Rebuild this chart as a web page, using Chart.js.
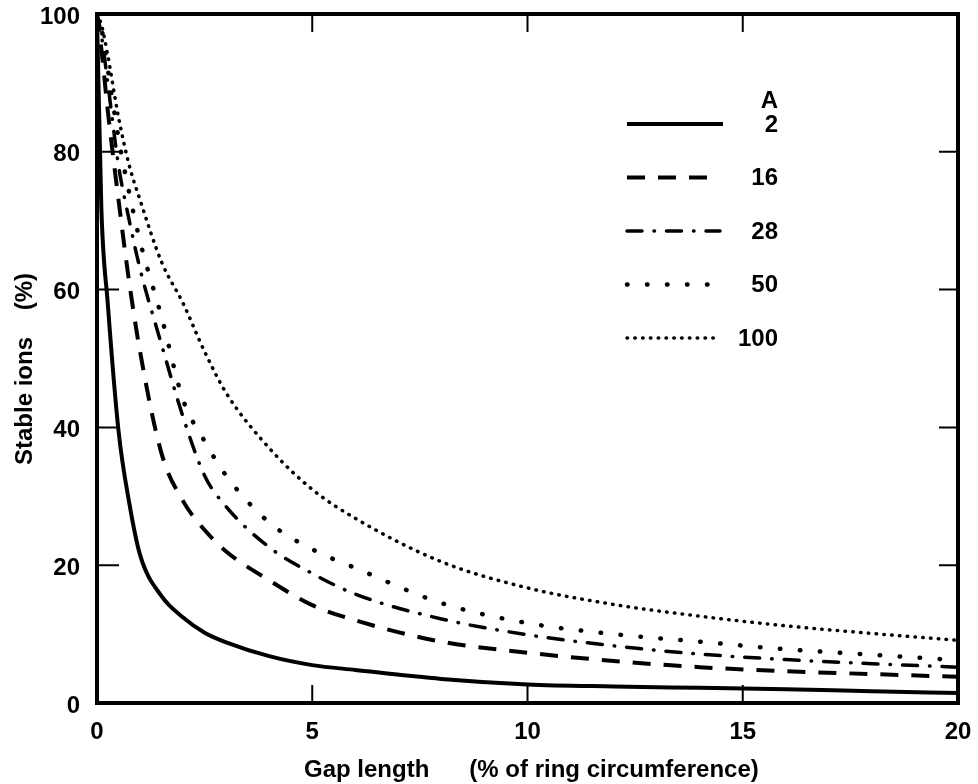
<!DOCTYPE html>
<html>
<head>
<meta charset="utf-8">
<script src="https://cdn.jsdelivr.net/npm/chart.js@4/dist/chart.umd.min.js"></script>
<style>
  html, body { margin: 0; padding: 0; background: #fff; }
</style>
</head>
<body>
<canvas id="myChart" width="978" height="784"></canvas>
<script>
// gap length (% of ring circumference)
var gaps = [0, 0.1, 0.25, 0.5, 0.75, 1, 1.5, 2, 2.5, 3, 4, 5, 6, 8, 10, 12, 14, 16, 18, 20];

// stable ions (%), one list per mass number A
var ionsA2 = [100, 72, 58, 39.5, 29, 21.5, 15.5, 12.4, 10.2, 8.8, 6.8, 5.5, 4.8, 3.5, 2.7, 2.4, 2.2, 2.0, 1.7, 1.45];
var ionsA16 = [100, 95, 86, 73, 61, 51, 36.2, 29.3, 25.1, 22, 17.8, 14.2, 12, 8.9, 7.3, 6.1, 5.2, 4.6, 4.2, 3.8];
var ionsA28 = [100, 97, 90, 78, 70, 63, 52, 41.5, 33, 28.5, 22.6, 18.8, 15.8, 12.2, 9.9, 8.3, 7.1, 6.3, 5.7, 5.2];
var ionsA50 = [100, 98, 92, 82, 74, 67, 56, 44, 38, 33, 26.2, 22.3, 19.6, 14.5, 11.6, 10.0, 8.9, 7.8, 7.0, 6.2];
var ionsA100 = [100, 98.5, 94, 85, 78, 73, 64, 58, 51, 45, 37, 31, 26.8, 20.5, 16.7, 14.3, 12.6, 11.2, 10.1, 9.1];

var massLabels = ["2", "16", "28", "50", "100"];
var legendTitle = "A";
var xTicks = [0, 5, 10, 15, 20];
var yTicks = [0, 20, 40, 60, 80, 100];
var xTitle = "Gap length      (% of ring circumference)";
var yTitle = "Stable ions    (%)";

var FAMILY = "'Liberation Sans', Arial, sans-serif";
var FONT = "bold 24px " + FAMILY;

// line looks, same order as massLabels
var looks = [
  { width: 4, dash: [], cap: "butt", keyEnd: 723 },
  { width: 4, dash: [18, 13], cap: "butt", keyEnd: 710 },
  { width: 3.5, dash: [15, 12, 0.5, 12], cap: "round", keyEnd: 720 },
  { width: 4.5, dash: [0.5, 19.5], cap: "round", keyEnd: 715 },
  { width: 3.5, dash: [0.5, 7.3], cap: "round", keyEnd: 718 }
];

function pts(values) {
  return gaps.map(function (g, i) {
    return { x: g, y: values[i] };
  });
}

var series = [ionsA2, ionsA16, ionsA28, ionsA50, ionsA100];
var datasets = series.map(function (vals, i) {
  return {
    label: massLabels[i],
    data: pts(vals),
    borderColor: "#000",
    borderWidth: looks[i].width,
    borderDash: looks[i].dash,
    borderCapStyle: looks[i].cap,
    cubicInterpolationMode: "monotone",
    pointRadius: 0,
    fill: false
  };
});

// box round the plot and the inward tick marks
var framePlugin = {
  id: "frame",
  afterDatasetsDraw: function (chart) {
    var ctx = chart.ctx;
    var a = chart.chartArea;
    var xs = chart.scales.x;
    var ys = chart.scales.y;
    ctx.save();
    ctx.strokeStyle = "#000";
    ctx.setLineDash([]);
    ctx.lineWidth = 4;
    ctx.strokeRect(a.left, a.top, a.right - a.left, a.bottom - a.top);
    ctx.lineWidth = 2;
    ctx.beginPath();
    xTicks.slice(1, -1).forEach(function (v) {
      var px = xs.getPixelForValue(v);
      ctx.moveTo(px, a.bottom);
      ctx.lineTo(px, a.bottom - 18);
      ctx.moveTo(px, a.top);
      ctx.lineTo(px, a.top + 18);
    });
    yTicks.slice(1, -1).forEach(function (v) {
      var py = ys.getPixelForValue(v);
      ctx.moveTo(a.left, py);
      ctx.lineTo(a.left + 22, py);
      ctx.moveTo(a.right, py);
      ctx.lineTo(a.right - 19, py);
    });
    ctx.stroke();
    ctx.restore();
  }
};

// key in the top right and the two axis titles
var keyPlugin = {
  id: "keyBox",
  afterDraw: function (chart) {
    var ctx = chart.ctx;
    ctx.save();
    ctx.font = FONT;
    ctx.fillStyle = "#000";
    ctx.strokeStyle = "#000";
    ctx.textAlign = "right";
    ctx.textBaseline = "middle";
    ctx.fillText(legendTitle, 778, 101);
    chart.data.datasets.forEach(function (ds, i) {
      var y = 124 + i * 53.5;
      ctx.beginPath();
      ctx.lineWidth = ds.borderWidth;
      ctx.lineCap = ds.borderCapStyle;
      ctx.setLineDash(ds.borderDash);
      ctx.moveTo(627, y);
      ctx.lineTo(looks[i].keyEnd, y);
      ctx.stroke();
      ctx.setLineDash([]);
      ctx.fillText(ds.label, 778, y + 1);
    });

    ctx.textAlign = "left";
    ctx.textBaseline = "alphabetic";
    ctx.fillText(xTitle, 304, 777);

    ctx.translate(32, 465);
    ctx.rotate(-Math.PI / 2);
    ctx.fillText(yTitle, 0, 0);
    ctx.restore();
  }
};

var tickFont = { family: FAMILY, size: 24, weight: "bold" };

var ctx = document.getElementById("myChart").getContext("2d");
var myChart = new Chart(ctx, {
  type: "line",
  data: { datasets: datasets },
  options: {
    responsive: false,
    animation: false,
    layout: { padding: { top: 14, right: 20, left: 0, bottom: 0 } },
    scales: {
      x: {
        type: "linear",
        min: 0,
        max: 20,
        afterBuildTicks: function (s) {
          s.ticks = xTicks.map(function (v) { return { value: v }; });
        },
        afterFit: function (s) {
          s.height = 81;
          s.paddingLeft = 0;
          s.paddingRight = 0;
        },
        grid: { display: false },
        border: { display: false },
        ticks: { color: "#000", font: tickFont, padding: 7, maxRotation: 0 }
      },
      y: {
        type: "linear",
        min: 0,
        max: 100,
        afterBuildTicks: function (s) {
          s.ticks = yTicks.map(function (v) { return { value: v }; });
        },
        afterFit: function (s) {
          s.width = 97;
          s.paddingTop = 0;
          s.paddingBottom = 0;
        },
        grid: { display: false },
        border: { display: false },
        ticks: { color: "#000", font: tickFont, padding: 9, labelOffset: 3 }
      }
    },
    plugins: {
      legend: { display: false },
      tooltip: { enabled: false }
    }
  },
  plugins: [framePlugin, keyPlugin]
});
</script>
</body>
</html>
